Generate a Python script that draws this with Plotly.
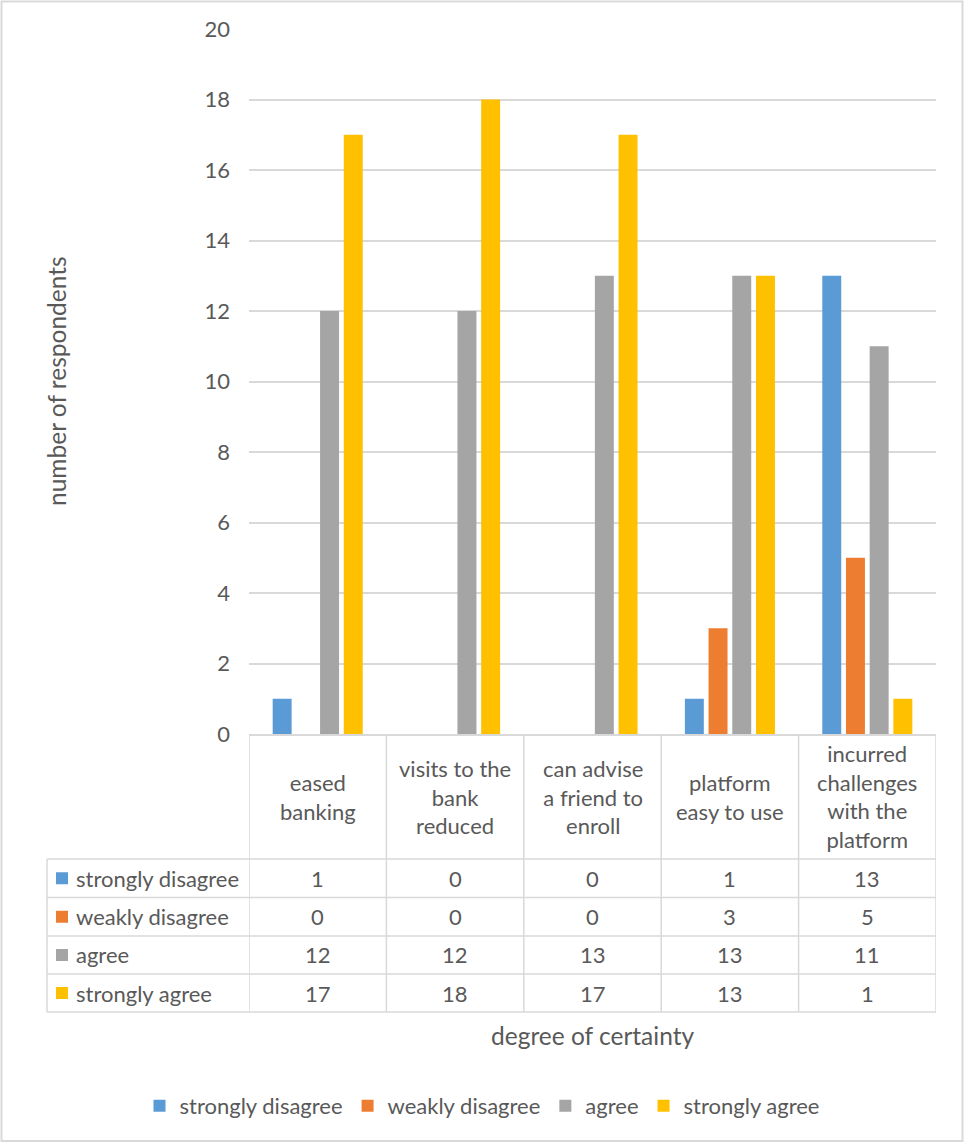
import plotly.graph_objects as go

# Survey categories (header labels of the data table, wrapped for display)
categories = [
    "eased<br>banking",
    "visits to the<br>bank<br>reduced",
    "can advise<br>a friend to<br>enroll",
    "platform<br>easy to use",
    "incurred<br>challenges<br>with the<br>platform",
]

series_names = ["strongly disagree", "weakly disagree", "agree", "strongly agree"]
strongly_disagree = [1, 0, 0, 1, 13]
weakly_disagree = [0, 0, 0, 3, 5]
agree = [12, 12, 13, 13, 11]
strongly_agree = [17, 18, 17, 13, 1]
series_values = [strongly_disagree, weakly_disagree, agree, strongly_agree]
series_colors = ["#5B9BD5", "#ED7D31", "#A5A5A5", "#FFC000"]

y_ticks = [0, 2, 4, 6, 8, 10, 12, 14, 16, 18, 20]

W, H = 964, 1143
L, R, T, B = 249, 28, 29, 409
PW, PH = W - L - R, H - T - B
FONT = "Lato"
TXT = "#595959"
LINE = "#D9D9D9"


def px(x):
    return (x - L) / PW


def py(y):
    return (H - B - y) / PH


fig = go.Figure()
for name, vals, col in zip(series_names, series_values, series_colors):
    fig.add_trace(go.Bar(
        x=categories, y=vals, name=name,
        marker=dict(color=col, line=dict(width=0)),
    ))

shapes = []
annotations = []

# data table geometry (pixel rows)
table_left = 47
header_bottom = 859
row_edges = [859, 897.5, 936, 974, 1012]
n = len(categories)

# vertical separators between category columns
for i in range(n + 1):
    shapes.append(dict(type="line", xref="x", yref="paper",
                       x0=i - 0.5, x1=i - 0.5, y0=py(T + PH), y1=py(row_edges[-1]),
                       line=dict(color=LINE, width=1.5)))
# left border of the series-name column
shapes.append(dict(type="line", xref="paper", yref="paper",
                   x0=px(table_left), x1=px(table_left),
                   y0=py(header_bottom), y1=py(row_edges[-1]),
                   line=dict(color=LINE, width=1.5)))
# horizontal row lines
for ye in row_edges:
    shapes.append(dict(type="line", xref="paper", yref="paper",
                       x0=px(table_left), x1=1, y0=py(ye), y1=py(ye),
                       line=dict(color=LINE, width=1.5)))

# header labels
for c in categories:
    annotations.append(dict(xref="x", yref="paper", x=c, y=py((T + PH + header_bottom) / 2),
                            text=c, showarrow=False, align="center",
                            xanchor="center", yanchor="middle",
                            font=dict(family=FONT, size=22, color=TXT)))

# rows: legend key, series name and values
for r, (name, vals, col) in enumerate(zip(series_names, series_values, series_colors)):
    yc = (row_edges[r] + row_edges[r + 1]) / 2
    shapes.append(dict(type="rect", xref="paper", yref="paper",
                       x0=px(56), x1=px(68), y0=py(yc - 6), y1=py(yc + 6),
                       fillcolor=col, line=dict(width=0)))
    annotations.append(dict(xref="paper", yref="paper", x=px(74), y=py(yc),
                            text=name, showarrow=False, xanchor="left", yanchor="middle",
                            font=dict(family=FONT, size=22, color=TXT)))
    for c, v in zip(categories, vals):
        annotations.append(dict(xref="x", yref="paper", x=c, y=py(yc),
                                text=str(v), showarrow=False,
                                xanchor="center", yanchor="middle",
                                font=dict(family=FONT, size=22, color=TXT)))

# axis titles
annotations.append(dict(xref="paper", yref="paper", x=0.5, y=py(1035),
                        text="degree of certainty", showarrow=False,
                        xanchor="center", yanchor="middle",
                        font=dict(family=FONT, size=24.5, color=TXT)))
annotations.append(dict(xref="paper", yref="paper", x=px(56), y=py(381),
                        text="number of respondents", showarrow=False, textangle=-90,
                        xanchor="center", yanchor="middle",
                        font=dict(family=FONT, size=24.5, color=TXT)))

# chart frame
shapes.append(dict(type="rect", xref="paper", yref="paper",
                   x0=px(1.5), x1=px(962.5), y0=py(1.5), y1=py(1141),
                   line=dict(color=LINE, width=2), fillcolor="rgba(0,0,0,0)"))

fig.update_layout(
    width=W, height=H,
    margin=dict(l=L, r=R, t=T, b=B),
    paper_bgcolor="white", plot_bgcolor="white",
    barmode="group", bargap=0.31, bargroupgap=0.2,
    font=dict(family=FONT, size=22, color=TXT),
    shapes=shapes, annotations=annotations,
    showlegend=True,
    legend=dict(orientation="h", x=px(482), xanchor="center",
                y=py(1106), yanchor="middle",
                font=dict(family=FONT, size=22, color=TXT),
                itemclick=False),
    xaxis=dict(type="category", range=[-0.5, n - 0.5], showticklabels=False,
               showgrid=False, showline=True, linecolor=LINE, linewidth=1.5,
               ticks="", fixedrange=True),
    yaxis=dict(range=[0, 20], tickvals=y_ticks, showgrid=True, gridcolor=LINE,
               gridwidth=1.5, zeroline=False, showline=False, ticks="",
               ticklabelstandoff=18,
               tickfont=dict(family=FONT, size=22, color=TXT)),
)

fig.write_html("out.html")
